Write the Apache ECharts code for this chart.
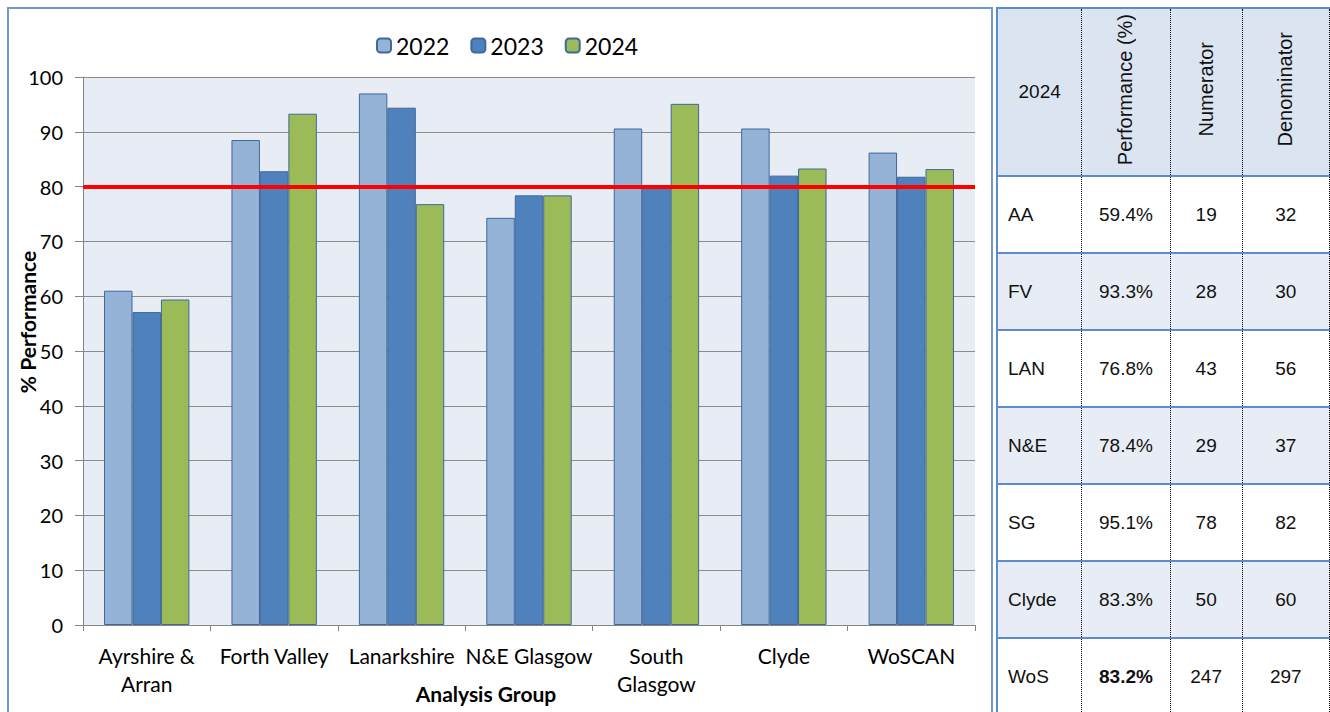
<!DOCTYPE html>
<html lang="en">
  <head>
    <meta charset="UTF-8" />
    <title>Performance by Analysis Group</title>
    <script src="https://cdn.jsdelivr.net/npm/echarts@6/dist/echarts.min.js"></script>
    <style>
      html, body { margin: 0; padding: 0; background: #fff; }
      body { width: 1330px; height: 712px; overflow: hidden; position: relative; }
      #main { position: absolute; left: 0; top: 0; width: 995px; height: 712px; }
      #side {
        position: absolute; left: 996px; top: 7px;
        border-collapse: collapse; table-layout: fixed;
        font-family: "Liberation Sans", Arial, sans-serif; font-size: 19px; color: #111;
      }
      #side td, #side th {
        border-top: 2px solid #5b8bd0; border-bottom: 2px solid #5b8bd0;
        border-left: 1px dotted #000; border-right: 1px dotted #000;
        padding: 0; text-align: center; font-weight: normal;
      }
      #side tr > :first-child { border-left: 2px solid #5b8bd0; text-align: left; padding-left: 10px; }
      #side th { height: 166px; background: #dbe5f1; }
      #side th:first-child { text-align: center; padding-left: 0; }
      #side td { height: 75px; }
      #side tr.shade td { background: #e8edf5; }
      .vert { display: inline-block; writing-mode: vertical-rl; transform: rotate(180deg); font-size: 20px; }
    </style>
  </head>
  <body>
    <div id="main"></div>
    <table id="side"></table>
    <script type="text/javascript">
      // chart data
      let categories = ["Ayrshire &\nArran", "Forth Valley", "Lanarkshire", "N&E Glasgow", "South\nGlasgow", "Clyde", "WoSCAN"];
      let years = ["2022", "2023", "2024"];
      let perf2022 = [61.0, 88.5, 97.0, 74.3, 90.6, 90.6, 86.2];
      let perf2023 = [57.1, 82.8, 94.4, 78.4, 80.0, 82.0, 81.8];
      let perf2024 = [59.4, 93.3, 76.8, 78.4, 95.1, 83.3, 83.2];
      let target = 80;

      // side table data
      let tableYear = "2024";
      let tableHeads = ["Performance (%)", "Numerator", "Denominator"];
      let tableGroups = ["AA", "FV", "LAN", "N&E", "SG", "Clyde", "WoS"];
      let tablePerf = ["59.4%", "93.3%", "76.8%", "78.4%", "95.1%", "83.3%", "83.2%"];
      let numerators = [19, 28, 43, 29, 78, 50, 247];
      let denominators = [32, 30, 56, 37, 82, 60, 297];

      let colors = ["#95b3d7", "#4f81bd", "#9bbb59"];
      let chartFont = "Lato, 'Open Sans', sans-serif";

      // build the table
      let table = document.getElementById("side");
      let html = '<colgroup><col style="width:86px"><col style="width:90px"><col style="width:74px"><col style="width:90px"></colgroup>';
      html += "<tr><th>" + tableYear + "</th>";
      tableHeads.forEach((h) => {
        html += '<th><span class="vert">' + h + "</span></th>";
      });
      html += "</tr>";
      tableGroups.forEach((g, i) => {
        let last = i === tableGroups.length - 1;
        let perf = last ? "<b>" + tablePerf[i] + "</b>" : tablePerf[i];
        html += '<tr class="' + (i % 2 === 1 ? "shade" : "") + '">';
        html += "<td>" + g.replace("&", "&amp;") + "</td><td>" + perf + "</td><td>" + numerators[i] + "</td><td>" + denominators[i] + "</td></tr>";
      });
      table.innerHTML = html;

      let seriesData = [perf2022, perf2023, perf2024];
      let series = years.map((y, i) => ({
        name: y,
        type: "bar",
        data: seriesData[i],
        barGap: "0%",
        barCategoryGap: "33%",
        itemStyle: { color: colors[i], borderColor: "#41689a", borderWidth: 1 },
      }));
      // red target line drawn over all bars
      series[2].markLine = {
        silent: true,
        symbol: "none",
        label: { show: false },
        lineStyle: { color: "#ff0000", width: 4, type: "solid" },
        data: [{ yAxis: target }],
      };

      let options = {
        animation: false,
        textStyle: { fontFamily: chartFont },
        graphic: [
          {
            type: "rect",
            shape: { x: 8, y: 8, width: 984, height: 720 },
            style: { fill: "none", stroke: "#7199d0", lineWidth: 2 },
            z: -1,
          },
        ],
        legend: {
          data: years,
          left: 371,
          top: 29,
          itemWidth: 14,
          itemHeight: 14,
          itemGap: 21,
          textStyle: { fontSize: 23, color: "#000", fontFamily: chartFont },
        },
        grid: {
          left: 83,
          top: 77,
          width: 892,
          height: 548,
          outerBoundsMode: "none",
          containLabel: false,
          show: true,
          backgroundColor: "#e8ecf5",
          borderWidth: 0,
        },
        xAxis: {
          type: "category",
          data: categories,
          name: "Analysis Group",
          nameLocation: "middle",
          nameMoveOverlap: false,
          nameGap: 58,
          nameTextStyle: { fontSize: 21, fontWeight: "bold", color: "#000", padding: [0, 86, 0, 0] },
          axisLine: { lineStyle: { color: "#868686", width: 1 } },
          axisTick: { show: true, length: 6, lineStyle: { color: "#868686" } },
          axisLabel: { interval: 0, fontSize: 21, lineHeight: 28, color: "#000", margin: 16 },
        },
        yAxis: {
          type: "value",
          min: 0,
          max: 100,
          interval: 10,
          name: "% Performance",
          nameLocation: "middle",
          nameMoveOverlap: false,
          nameGap: 45,
          nameTextStyle: { fontSize: 21, fontWeight: "bold", color: "#000", padding: [0, 0, 0, 58] },
          axisLine: { show: true, lineStyle: { color: "#868686", width: 1 } },
          axisTick: { show: true, length: 8, lineStyle: { color: "#868686" } },
          axisLabel: { fontSize: 20, color: "#000", margin: 20 },
          splitLine: { lineStyle: { color: "#8c8c8c", width: 1 } },
        },
        series: series,
      };

      let myChart = echarts.init(document.getElementById("main"), null, { renderer: "svg" });
      myChart.setOption(options);
    </script>
  </body>
</html>
